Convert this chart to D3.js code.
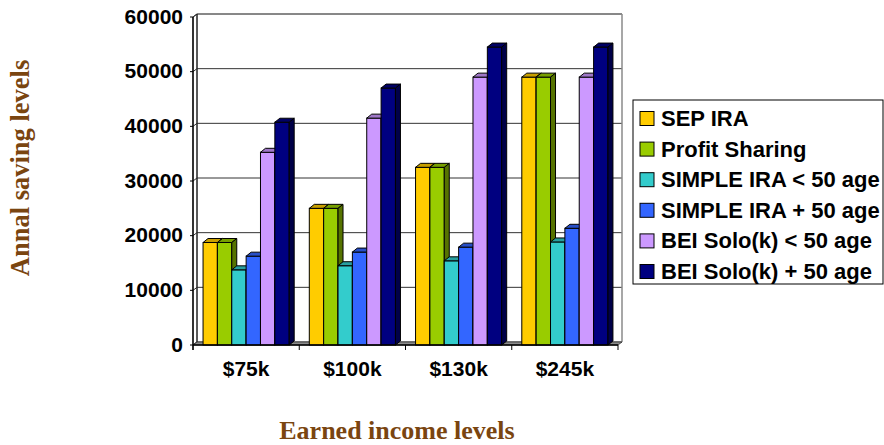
<!DOCTYPE html>
<html><head><meta charset="utf-8">
<script src="https://cdn.jsdelivr.net/npm/d3@7"></script>
<style>html,body{margin:0;padding:0;background:#fff;}svg{display:block;}</style>
</head><body>
<svg id="chart" width="884" height="445"></svg>
<script>
const categories = ["$75k", "$100k", "$130k", "$245k"];
const seriesNames = ["SEP IRA", "Profit Sharing", "SIMPLE IRA < 50 age", "SIMPLE IRA + 50 age", "BEI Solo(k) < 50 age", "BEI Solo(k) + 50 age"];
const seriesColors = ["#FFCC00", "#99CC00", "#33CCCC", "#3366FF", "#CC99FF", "#000080"];
const sepIra = [18750, 25000, 32500, 49000];
const profitSharing = [18750, 25000, 32500, 49000];
const simpleUnder50 = [13750, 14500, 15400, 18850];
const simpleOver50 = [16250, 17000, 17900, 21350];
const soloUnder50 = [35250, 41500, 49000, 49000];
const soloOver50 = [40750, 47000, 54500, 54500];
const seriesValues = [sepIra, profitSharing, simpleUnder50, simpleOver50, soloUnder50, soloOver50];
const yTicks = [0, 10000, 20000, 30000, 40000, 50000, 60000];
const yTitle = "Annal saving levels";
const xTitle = "Earned income levels";

const svg = d3.select("#chart");
const font = "'Liberation Sans', Arial, sans-serif";
const serif = "'Liberation Serif', 'Times New Roman', serif";
const brown = "#7a4510";

// front plane geometry
const fx0 = 193, fx1 = 618, fyB = 345, fyT = 17;
const wdx = 4, wdy = -3;   // wall depth
const bdx = 5, bdy = -4;   // bar depth

const y = d3.scaleLinear().domain([0, 60000]).range([fyB, fyT]);
const x = d3.scaleBand().domain(categories).range([fx0, fx1]).paddingInner(0).paddingOuter(0);
const xs = d3.scaleBand().domain(d3.range(seriesNames.length)).range([0, x.bandwidth()]).paddingInner(0).paddingOuter(0.7);

const g = svg.append("g");

// back wall
g.append("rect").attr("x", fx0 + wdx).attr("y", fyT + wdy).attr("width", fx1 - fx0).attr("height", fyB - fyT)
  .attr("fill", "#fff").attr("stroke", "none");
// left side wall
g.append("polygon").attr("points", [[fx0, fyT], [fx0 + wdx, fyT + wdy], [fx0 + wdx, fyB + wdy], [fx0, fyB]].join(" "))
  .attr("fill", "#fff").attr("stroke", "#222").attr("stroke-width", 1);

// gridlines on back wall and side wall
yTicks.forEach(t => {
  const yy = y(t);
  g.append("line").attr("x1", fx0 + wdx).attr("x2", fx1 + wdx).attr("y1", yy + wdy).attr("y2", yy + wdy)
    .attr("stroke", t === 60000 ? "#111" : "#333").attr("stroke-width", 1);
  g.append("line").attr("x1", fx0).attr("x2", fx0 + wdx).attr("y1", yy).attr("y2", yy + wdy)
    .attr("stroke", "#333").attr("stroke-width", 1);
});
// back wall borders
g.append("line").attr("x1", fx1 + wdx).attr("x2", fx1 + wdx).attr("y1", fyT + wdy).attr("y2", fyB + wdy)
  .attr("stroke", "#8a8a8a").attr("stroke-width", 1.5);
g.append("line").attr("x1", fx0 + wdx).attr("x2", fx0 + wdx).attr("y1", fyT + wdy).attr("y2", fyB + wdy)
  .attr("stroke", "#222").attr("stroke-width", 1);

// floor
g.append("polygon").attr("points", [[fx0, fyB], [fx1, fyB], [fx1 + wdx, fyB + wdy], [fx0 + wdx, fyB + wdy]].join(" "))
  .attr("fill", "#8c8c8c").attr("stroke", "#333").attr("stroke-width", 0.8);

// bars
categories.forEach((c, ci) => {
  seriesNames.forEach((s, si) => {
    const v = seriesValues[si][ci];
    const x0 = x(c) + xs(si), x1 = x0 + xs.bandwidth();
    const yt = y(v), yb = y(0);
    const col = d3.color(seriesColors[si]);
    const topCol = col.darker(0.7).formatHex();
    const sideCol = col.darker(1.6).formatHex();
    g.append("rect").attr("x", x0).attr("y", yt).attr("width", x1 - x0).attr("height", yb - yt)
      .attr("fill", seriesColors[si]).attr("stroke", "#000").attr("stroke-width", 1);
    g.append("polygon").attr("points", [[x0, yt], [x0 + bdx, yt + bdy], [x1 + bdx, yt + bdy], [x1, yt]].join(" "))
      .attr("fill", topCol).attr("stroke", "#000").attr("stroke-width", 1).attr("stroke-linejoin", "round");
    g.append("polygon").attr("points", [[x1, yt], [x1 + bdx, yt + bdy], [x1 + bdx, yb + bdy], [x1, yb]].join(" "))
      .attr("fill", sideCol).attr("stroke", "#000").attr("stroke-width", 1).attr("stroke-linejoin", "round");
  });
});

// front axes
g.append("line").attr("x1", fx0).attr("x2", fx0).attr("y1", fyT).attr("y2", fyB + 5).attr("stroke", "#000").attr("stroke-width", 1.3);
g.append("line").attr("x1", fx0).attr("x2", fx1).attr("y1", fyB).attr("y2", fyB).attr("stroke", "#000").attr("stroke-width", 1.3);
yTicks.forEach(t => {
  g.append("line").attr("x1", fx0 - 3).attr("x2", fx0).attr("y1", y(t)).attr("y2", y(t)).attr("stroke", "#000");
  g.append("text").attr("x", 183).attr("y", y(t) - 1).attr("text-anchor", "end").attr("dominant-baseline", "central")
    .attr("font-family", font).attr("font-weight", "bold").attr("font-size", 21).attr("fill", "#000").text(t);
});
categories.forEach((c, i) => {
  g.append("line").attr("x1", x(c)).attr("x2", x(c)).attr("y1", fyB).attr("y2", fyB + 5).attr("stroke", "#000");
  g.append("text").attr("x", x(c) + x.bandwidth() / 2).attr("y", 376).attr("text-anchor", "middle")
    .attr("font-family", font).attr("font-weight", "bold").attr("font-size", 21).attr("fill", "#000").text(c);
});
g.append("line").attr("x1", fx1).attr("x2", fx1).attr("y1", fyB).attr("y2", fyB + 5).attr("stroke", "#000");

// titles
svg.append("text").attr("transform", "translate(29,168) rotate(-90)").attr("text-anchor", "middle")
  .attr("font-family", serif).attr("font-weight", "bold").attr("font-size", 26.5).attr("fill", brown).text(yTitle);
svg.append("text").attr("x", 397).attr("y", 439).attr("text-anchor", "middle")
  .attr("font-family", serif).attr("font-weight", "bold").attr("font-size", 26).attr("fill", brown).text(xTitle);

// legend
const lg = svg.append("g");
lg.append("rect").attr("x", 633).attr("y", 100).attr("width", 250).attr("height", 184)
  .attr("fill", "#fff").attr("stroke", "#000").attr("stroke-width", 1);
seriesNames.forEach((s, i) => {
  const cy = 118.5 + i * 30.6;
  lg.append("rect").attr("x", 640).attr("y", cy - 7).attr("width", 14).attr("height", 14)
    .attr("fill", seriesColors[i]).attr("stroke", "#000").attr("stroke-width", 1);
  lg.append("text").attr("x", 661).attr("y", cy).attr("dominant-baseline", "central")
    .attr("font-family", font).attr("font-weight", "bold").attr("font-size", 22).attr("fill", "#000").text(s);
});
</script>
</body></html>
